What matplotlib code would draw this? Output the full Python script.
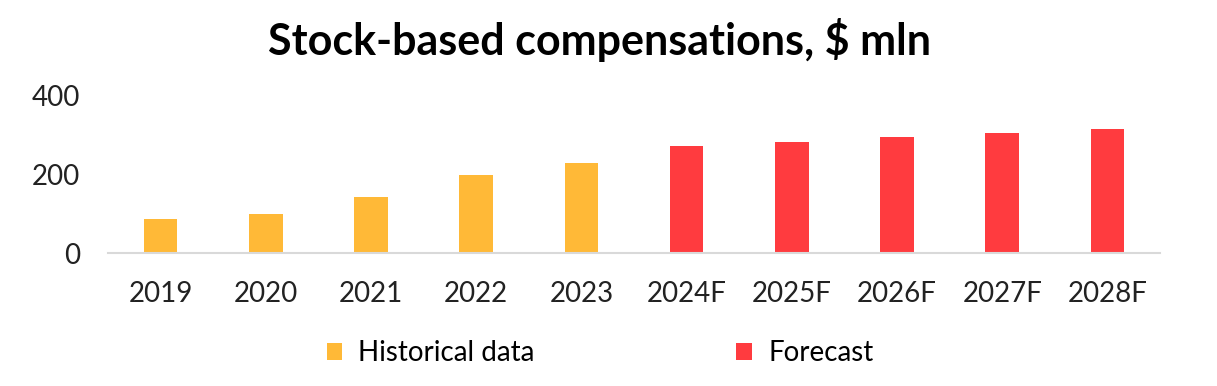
import matplotlib
matplotlib.use("Agg")
import matplotlib.pyplot as plt
from matplotlib.patches import Patch

categories = ["2019", "2020", "2021", "2022", "2023", "2024F", "2025F", "2026F", "2027F", "2028F"]
values = [87, 100, 143, 198, 228, 272, 281, 295, 305, 315]
is_forecast = [False] * 5 + [True] * 5
hist_color = "#FFB937"
fc_color = "#FF3B3F"
yticks = [0, 200, 400]

plt.rcParams['font.family'] = ['Lato', 'DejaVu Sans']

fig = plt.figure(figsize=(12.17, 3.86), dpi=100)
ax = fig.add_axes([108/1217, 1 - 253.3/386, (1160-108)/1217, (253.3-95)/386])

x = list(range(len(categories)))
colors = [fc_color if f else hist_color for f in is_forecast]
ax.bar(x, values, width=0.32, color=colors, edgecolor='none')
ax.set_xlim(-0.5, len(categories) - 0.5)
ax.set_ylim(0, 400)
ax.set_yticks(yticks)
ax.set_yticklabels([str(t) for t in yticks])
ax.set_xticks(x)
ax.set_xticklabels(categories)
ax.tick_params(axis='both', length=0, labelsize=20, colors='#222222')
ax.tick_params(axis='x', pad=20)
ax.tick_params(axis='y', pad=20)
for s in ['top', 'right', 'left']:
    ax.spines[s].set_visible(False)
ax.spines['bottom'].set_color('#d9d9d9')
ax.spines['bottom'].set_linewidth(1.5)

fig.text(600/1217, 1 - 40/386, "Stock-based compensations, $ mln", ha='center', va='center',
         fontsize=31, fontweight='bold', color='black')

handles = [Patch(facecolor=hist_color, label="Historical data"),
           Patch(facecolor=fc_color, label="Forecast")]
fig.legend(handles=handles, loc='center', bbox_to_anchor=(600/1217, 1 - 353/386), ncol=2,
           frameon=False, fontsize=20, handlelength=0.55, handleheight=0.55, handletextpad=0.6,
           columnspacing=7.25)

fig.savefig("out.png", dpi=100)
